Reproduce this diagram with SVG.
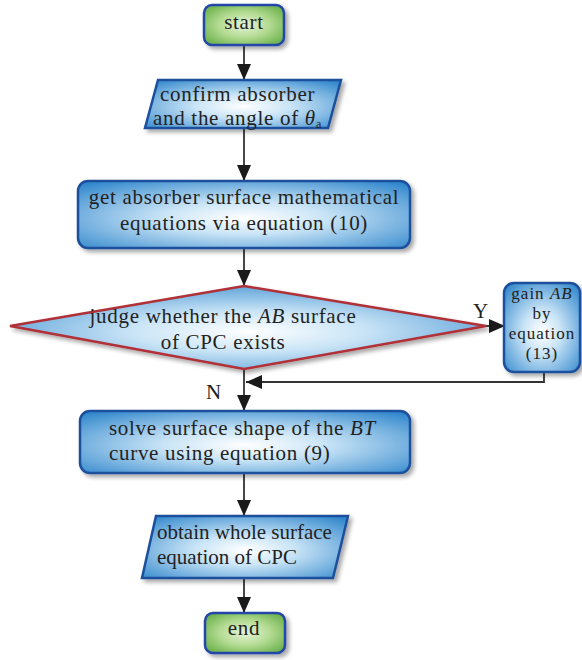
<svg xmlns="http://www.w3.org/2000/svg" width="582" height="660" viewBox="0 0 582 660">
<defs>
<radialGradient id="gb" cx="0.5" cy="0.55" r="0.7">
<stop offset="0" stop-color="#ffffff"/>
<stop offset="0.35" stop-color="#c9e4f6"/>
<stop offset="1" stop-color="#2f86cc"/>
</radialGradient>
<radialGradient id="gg" cx="0.5" cy="0.5" r="0.7">
<stop offset="0" stop-color="#e6f4da"/>
<stop offset="0.45" stop-color="#b3db92"/>
<stop offset="1" stop-color="#5aa63a"/>
</radialGradient>
<filter id="sh" x="-10%" y="-10%" width="130%" height="140%">
<feDropShadow dx="3" dy="3" stdDeviation="2" flood-color="#000" flood-opacity="0.35"/>
</filter>
<marker id="ahb" markerWidth="16" markerHeight="14" refX="16" refY="7" orient="auto" markerUnits="userSpaceOnUse" viewBox="0 0 16 14">
<path d="M0,0 L16,7 L0,14 Z" fill="#1a1a1a"/>
</marker>
</defs>
<style>
.t{font-family:"Liberation Serif","DejaVu Serif",serif;font-size:21px;letter-spacing:0.7px;fill:#222}
.c{text-anchor:middle}
.blue{fill:url(#gb);stroke:#1d4f9c;stroke-width:2.5}
.green{fill:url(#gg);stroke:#2346a8;stroke-width:2.5}
.dia{fill:url(#gb);stroke:#b03038;stroke-width:2.5}
.ln{fill:none;stroke:#333;stroke-width:1.8}
.s{font-size:17px;letter-spacing:1px}
.n{letter-spacing:0}
</style>
<g id="connectors">
<line class="ln" x1="244" y1="45" x2="244" y2="80" marker-end="url(#ahb)"/>
<line class="ln" x1="244" y1="128" x2="244" y2="181" marker-end="url(#ahb)"/>
<line class="ln" x1="244" y1="248" x2="244" y2="286" marker-end="url(#ahb)"/>
<line class="ln" x1="486" y1="326" x2="505" y2="326" marker-end="url(#ahb)"/>
<polyline class="ln" points="544,372 544,382 246,382" marker-end="url(#ahb)"/>
<line class="ln" x1="244" y1="369" x2="244" y2="411" marker-end="url(#ahb)"/>
<line class="ln" x1="244" y1="473" x2="244" y2="516" marker-end="url(#ahb)"/>
<line class="ln" x1="244" y1="578" x2="244" y2="613" marker-end="url(#ahb)"/>
<text class="t" x="473" y="318" font-size="19">Y</text>
<text class="t" x="206" y="399" font-size="19">N</text>
</g>
<g id="start">
<rect class="green" x="204" y="5" width="80" height="40" rx="8" filter="url(#sh)"/>
<text class="t c" x="244" y="29">start</text>
</g>
<g id="confirm">
<polygon class="blue" points="158,80 341,80 328,128 145,128" filter="url(#sh)"/>
<text class="t" x="160" y="101">confirm absorber</text>
<text class="t" x="153" y="125">and the angle of <tspan font-style="italic">θ</tspan><tspan font-size="12" dy="3">a</tspan></text>
</g>
<g id="getabs">
<rect class="blue" x="78" y="181" width="332" height="67" rx="10" filter="url(#sh)"/>
<text class="t c" x="244" y="204">get absorber surface mathematical</text>
<text class="t c" x="244" y="230">equations via equation (10)</text>
</g>
<g id="judge">
<polygon class="dia" points="244,286 486,326 244,369 10,326" filter="url(#sh)"/>
<text class="t c" x="223" y="323">judge whether the <tspan font-style="italic">AB</tspan> surface</text>
<text class="t c" x="223" y="349">of CPC exists</text>
</g>
<g id="gain">
<rect class="blue" x="504" y="283" width="76" height="89" rx="10" filter="url(#sh)"/>
<text class="t c s" x="542" y="299">gain <tspan font-style="italic">AB</tspan></text>
<text class="t c s" x="542" y="319">by</text>
<text class="t c s" x="542" y="339">equation</text>
<text class="t c s" x="542" y="359">(13)</text>
</g>
<g id="solve">
<rect class="blue" x="80" y="411" width="330" height="62" rx="10" filter="url(#sh)"/>
<text class="t" x="109" y="435">solve surface shape of the <tspan font-style="italic">BT</tspan></text>
<text class="t" x="109" y="460">curve using equation (9)</text>
</g>
<g id="obtain">
<polygon class="blue" points="156,516 348,516 333,578 142,578" filter="url(#sh)"/>
<text class="t n" x="157" y="539">obtain whole surface</text>
<text class="t n" x="157" y="564">equation of CPC</text>
</g>
<g id="end">
<rect class="green" x="205" y="613" width="80" height="40" rx="8" filter="url(#sh)"/>
<text class="t c" x="244" y="635">end</text>
</g>
</svg>
